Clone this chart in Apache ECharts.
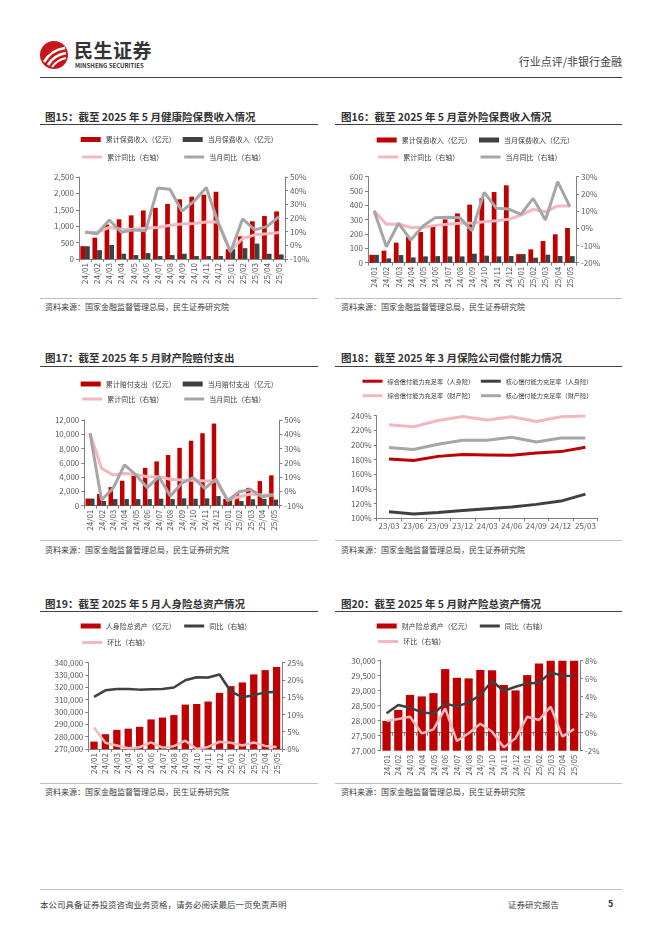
<!DOCTYPE html>
<html><head><meta charset="utf-8">
<script src="https://cdn.jsdelivr.net/npm/echarts@6/dist/echarts.min.js"></script>
<style>
html,body{margin:0;padding:0;background:#fff;}
body{width:662px;height:936px;position:relative;overflow:hidden;font-family:"Noto Sans CJK SC","Noto Sans",sans-serif;color:#333;}
.t{position:absolute;white-space:nowrap;}
.title{font-size:10.5px;font-weight:bold;color:#333;line-height:12px;}
.src{font-size:8px;color:#404040;line-height:10px;}
.hl{position:absolute;height:0;}
.ch{position:absolute;}
</style></head><body>
<!-- header -->
<svg class="t" style="left:39px;top:40px" width="30" height="30" viewBox="0 0 30 30">
<circle cx="15" cy="15" r="14" fill="#C8161D"/>
<path d="M5 22 Q12 10 26 8" stroke="#fff" stroke-width="2.6" fill="none"/>
<path d="M9 25 Q15 15 27 13" stroke="#fff" stroke-width="2.6" fill="none"/>
<path d="M13 27 Q18 20 27 18" stroke="#fff" stroke-width="2" fill="none"/>
</svg>
<div class="t" style="left:74px;top:40px;font-size:19px;font-weight:bold;line-height:20px;color:#333;letter-spacing:0.5px">民生证券</div>
<div class="t" style="left:75px;top:62px;font-size:6px;font-weight:bold;line-height:7px;color:#333">MINSHENG SECURITIES</div>
<div class="t" style="right:40px;top:55px;font-size:11px;line-height:13px;color:#404040">行业点评/非银行金融</div>
<div class="hl" style="left:40px;top:77px;width:582px;border-top:1px solid #404040"></div>

<!-- titles -->
<div class="t title" style="left:45px;top:111px">图15：截至 2025 年 5 月健康险保费收入情况</div>
<div class="t title" style="left:341px;top:111px">图16：截至 2025 年 5 月意外险保费收入情况</div>
<div class="hl" style="left:40px;top:124px;width:278px;border-top:1px solid #404040"></div>
<div class="hl" style="left:335px;top:124px;width:287px;border-top:1px solid #404040"></div>

<div class="t title" style="left:45px;top:352px">图17：截至 2025 年 5 月财产险赔付支出</div>
<div class="t title" style="left:341px;top:352px">图18：截至 2025 年 3 月保险公司偿付能力情况</div>
<div class="hl" style="left:40px;top:366px;width:278px;border-top:1px solid #404040"></div>
<div class="hl" style="left:335px;top:366px;width:287px;border-top:1px solid #404040"></div>

<div class="t title" style="left:45px;top:598px">图19：截至 2025 年 5 月人身险总资产情况</div>
<div class="t title" style="left:341px;top:598px">图20：截至 2025 年 5 月财产险总资产情况</div>
<div class="hl" style="left:40px;top:611px;width:278px;border-top:1px solid #404040"></div>
<div class="hl" style="left:335px;top:611px;width:287px;border-top:1px solid #404040"></div>

<!-- charts -->
<div id="c15" class="ch" style="left:40px;top:128px;width:278px;height:168px"></div>
<div id="c16" class="ch" style="left:335px;top:128px;width:287px;height:168px"></div>
<div id="c17" class="ch" style="left:40px;top:370px;width:278px;height:168px"></div>
<div id="c18" class="ch" style="left:335px;top:370px;width:287px;height:168px"></div>
<div id="c19" class="ch" style="left:40px;top:612px;width:278px;height:170px"></div>
<div id="c20" class="ch" style="left:335px;top:612px;width:287px;height:170px"></div>

<!-- sources -->
<div class="hl" style="left:40px;top:298px;width:278px;border-top:1px solid #bfbfbf"></div>
<div class="hl" style="left:335px;top:298px;width:287px;border-top:1px solid #bfbfbf"></div>
<div class="t src" style="left:45px;top:302px">资料来源：国家金融监督管理总局，民生证券研究院</div>
<div class="t src" style="left:341px;top:302px">资料来源：国家金融监督管理总局，民生证券研究院</div>
<div class="hl" style="left:40px;top:540px;width:278px;border-top:1px solid #bfbfbf"></div>
<div class="hl" style="left:335px;top:540px;width:287px;border-top:1px solid #bfbfbf"></div>
<div class="t src" style="left:45px;top:545px">资料来源：国家金融监督管理总局，民生证券研究院</div>
<div class="t src" style="left:341px;top:545px">资料来源：国家金融监督管理总局，民生证券研究院</div>
<div class="hl" style="left:40px;top:783px;width:278px;border-top:1px solid #bfbfbf"></div>
<div class="hl" style="left:335px;top:783px;width:287px;border-top:1px solid #bfbfbf"></div>
<div class="t src" style="left:45px;top:787px">资料来源：国家金融监督管理总局，民生证券研究院</div>
<div class="t src" style="left:341px;top:787px">资料来源：国家金融监督管理总局，民生证券研究院</div>

<!-- footer -->
<div class="hl" style="left:40px;top:889px;width:582px;border-top:1px solid #bfbfbf"></div>
<div class="t" style="left:40px;top:899px;font-size:8.5px;line-height:10px;color:#404040">本公司具备证券投资咨询业务资格，请务必阅读最后一页免责声明</div>
<div class="t" style="left:508px;top:899px;font-size:8.5px;line-height:10px;color:#404040">证券研究报告</div>
<div class="t" style="left:608px;top:899px;font-size:9px;line-height:10px;color:#333;font-weight:bold">5</div>

<script>
// ---------------- data ----------------
const months = ['24/01','24/02','24/03','24/04','24/05','24/06','24/07','24/08','24/09','24/10','24/11','24/12','25/01','25/02','25/03','25/04','25/05'];
const quarters = ['23/03','23/06','23/09','23/12','24/03','24/06','24/09','24/12','25/03'];

// 图15 健康险
const healthCum = [390,650,1050,1210,1330,1480,1560,1680,1820,1900,1960,2050,300,690,1150,1310,1450];
const healthMon = [390,270,430,160,120,180,90,120,160,90,90,90,300,330,470,160,140];
const healthCumYoy = [9.5,9.5,13.2,11.8,11.8,12.5,13,14.7,15.6,16,17,17,-4,5,7.7,8.4,9.4];
const healthMonYoy = [9.6,8.4,18.5,9.6,11.3,10.6,42,41,25,32.3,42.3,16,-5,19.3,11.3,13.7,21];

// 图16 意外险
const accCum = [55,84,140,180,214,258,302,344,405,450,493,540,60,93,151,198,242];
const accMon = [55,30,53,37,44,46,44,44,63,49,44,47,60,35,56,47,46];
const accCumYoy = [10.2,2.3,2.5,0.5,0.5,1.7,2.3,2.9,3.1,3.8,4.4,5.2,7.7,11,9.6,13,13];
const accMonYoy = [10.2,-10.7,2.9,-6.8,1.3,6.2,6.4,6.2,-1.4,20.9,11.6,11.2,8.1,17.4,4.8,27.1,12.6];

// 图17 财产险赔付
const claimCum = [1000,1650,2600,3500,4200,5300,6200,7100,8100,9100,10150,11500,950,1700,2500,3450,4250];
const claimMon = [1000,650,930,930,930,930,980,930,1030,980,1030,1350,950,650,900,950,850];
const claimCumYoy = [40.7,16.2,11.5,12.6,11.9,10.3,10.3,8.5,8,7.8,7.3,7.3,-6,-3.7,-1.8,-2.5,-2.5];
const claimMonYoy = [40.7,-6,2.1,18.5,11.5,2.6,10.3,-3.2,5.7,9.6,2.1,8.5,-6.5,-0.2,1.4,-3.7,-2.5];

// 图18 偿付能力
const lifeComp = [181,179,184.5,187,186.5,186,189,191,197];
const lifeCore = [109,106,108,110.5,113,115.5,119,123.5,133];
const propComp = [227.5,225,233.5,239,234,238.5,232,238.5,239.5];
const propCore = [196.5,194,201,206.5,206.5,210.5,204,209.5,209.5];

// 图19 人身险总资产
const lifeAsset = [276000,282000,285500,286500,288000,294000,295500,297500,306000,306500,308500,315500,321000,324000,330500,334000,336500];
const lifeYoy = [15.1,17,17.4,17.4,17.2,17.3,17.4,17.8,19.9,20.8,20.7,21.6,16.6,15,15.6,16.4,16.6];
const lifeMom = [6.2,1.8,1.0,0.2,0.5,1.9,0.4,0.8,2.4,0.0,0.6,2.1,1.8,1.0,1.9,0.9,0.6];

// 图20 财产险总资产
const propAsset = [27990,28360,28860,28810,28920,29720,29430,29410,29690,29680,29190,29010,29520,29910,30000,30000,30000];
const propYoy = [2.15,3.07,2.78,2.26,2.1,3.26,2.9,3.37,4.19,5.74,4.63,5.1,5.48,5.55,6.7,6.33,6.3];
const propMom = [1.3,1.52,1.78,-0.07,0.37,2.7,-0.93,-0.07,1.0,0.11,-1.63,-0.63,1.78,1.41,2.89,-0.44,0.41];

// ---------------- styles ----------------
const FONT = '"Noto Sans CJK SC","Noto Sans",sans-serif';
const RED = '#C00000', DARK = '#404040', PINK = '#F2B8BD', GRAY = '#A6A6A6';
const AX = '#808080', LBL = '#595959';
const thousands = v => Number(v).toLocaleString('en-US');
const pct = v => v + '%';

function yAx(min, max, interval, fmt, pos) {
  return {type:'value', position:pos, min, max, interval,
    axisLine:{show:true, lineStyle:{color:AX}},
    axisTick:{show:true, length:3, lineStyle:{color:AX}},
    splitLine:{show:false},
    axisLabel:{fontSize:8, color:LBL, margin:5, formatter:fmt, fontFamily:FONT}};
}
function xAx(data, rotate) {
  return {type:'category', data, boundaryGap:true,
    axisLine:{lineStyle:{color:AX}},
    axisTick:{show:true, length:3, lineStyle:{color:AX}},
    axisLabel:{rotate:rotate, fontSize:8, color:LBL, interval:0, margin:4, fontFamily:FONT}};
}
function lg(name, x, y, h, isLine, fs) {
  const item = isLine ? {name, itemStyle:{opacity:0}} : {name, icon:'rect'};
  const o = {data:[item], left:x, top:y, itemWidth:20, itemHeight:h, padding:0,
    selectedMode:false, textStyle:{fontSize:fs||7, color:'#404040', fontFamily:FONT}};
  if (isLine) o.lineStyle = {width:3};
  return o;
}
function bar(name, data, color, yi) {
  return {name, type:'bar', data, yAxisIndex:yi||0, color, itemStyle:{color},
    barGap:'0%', barCategoryGap:'22%', z:1};
}
function line(name, data, color, yi, w) {
  return {name, type:'line', data, yAxisIndex:yi, color, symbol:'none', showSymbol:false,
    lineStyle:{width:w||3, color}, itemStyle:{color}, z:3, animation:false};
}
function mk(id, opt) {
  const c = echarts.init(document.getElementById(id), null, {renderer:'canvas'});
  opt.animation = false;
  opt.textStyle = {fontFamily:FONT};
  c.setOption(opt);
}

// 图15
mk('c15', {
  legend:[lg('累计保费收入（亿元）',40.7,8,5), lg('当月保费收入（亿元）',142.7,8,5),
          lg('累计同比（右轴）',40.7,25.5,8,true), lg('当月同比（右轴）',142.7,25.5,8,true)],
  grid:{left:39, right:33, top:49, height:82},
  xAxis:xAx(months,90),
  yAxis:[yAx(0,2500,500,thousands,'left'), yAx(-10,50,10,pct,'right')],
  series:[bar('累计保费收入（亿元）',healthCum,RED), bar('当月保费收入（亿元）',healthMon,DARK),
          line('累计同比（右轴）',healthCumYoy,PINK,1), line('当月同比（右轴）',healthMonYoy,GRAY,1)]
});
// 图16
mk('c16', {
  legend:[lg('累计保费收入（亿元）',41.7,8.5,5), lg('当月保费收入（亿元）',144,8.5,5),
          lg('累计同比（右轴）',41.7,25.5,8,true), lg('当月同比（右轴）',144,25.5,8,true)],
  grid:{left:33, right:46, top:48.7, height:86},
  xAxis:xAx(months,90),
  yAxis:[yAx(0,600,100,null,'left'), yAx(-20,30,10,pct,'right')],
  series:[bar('累计保费收入（亿元）',accCum,RED), bar('当月保费收入（亿元）',accMon,DARK),
          line('累计同比（右轴）',accCumYoy,PINK,1), line('当月同比（右轴）',accMonYoy,GRAY,1)]
});
// 图17
mk('c17', {
  legend:[lg('累计赔付支出（亿元）',40.7,10.5,5), lg('当月赔付支出（亿元）',142.7,10.5,5),
          lg('累计同比（右轴）',40.7,25.5,8,true), lg('当月同比（右轴）',142.7,25.5,8,true)],
  grid:{left:44.3, right:38.7, top:50, height:85.7},
  xAxis:xAx(months,90),
  yAxis:[yAx(0,12000,2000,thousands,'left'), yAx(-10,50,10,pct,'right')],
  series:[bar('累计赔付支出（亿元）',claimCum,RED), bar('当月赔付支出（亿元）',claimMon,DARK),
          line('累计同比（右轴）',claimCumYoy,PINK,1), line('当月同比（右轴）',claimMonYoy,GRAY,1)]
});
// 图18
mk('c18', {
  legend:[lg('综合偿付能力充足率（人身险）',26,8,8,true,6.2), lg('核心偿付能力充足率（人身险）',144.3,8,8,true,6.2),
          lg('综合偿付能力充足率（财产险）',26,22.5,8,true,6.2), lg('核心偿付能力充足率（财产险）',144.3,22.5,8,true,6.2)],
  grid:{left:41.7, right:24.3, top:45.7, height:102.6},
  xAxis:xAx(quarters,0),
  yAxis:[yAx(100,240,20,pct,'left')],
  series:[line('综合偿付能力充足率（人身险）',lifeComp,RED,0),
          line('核心偿付能力充足率（人身险）',lifeCore,DARK,0),
          line('综合偿付能力充足率（财产险）',propComp,PINK,0),
          line('核心偿付能力充足率（财产险）',propCore,GRAY,0)]
});
// 图19
mk('c19', {
  legend:[lg('人身险总资产（亿元）',40.7,10.5,5), lg('同比（右轴）',142.7,10.5,8,true),
          lg('环比（右轴）',40.7,27,8,true)],
  grid:{left:48.3, right:35.7, top:50.7, height:86.3},
  xAxis:xAx(months,90),
  yAxis:[yAx(270000,340000,10000,thousands,'left'), yAx(0,25,5,pct,'right')],
  series:[Object.assign(bar('人身险总资产（亿元）',lifeAsset,RED),{barCategoryGap:'36%'}),
          line('同比（右轴）',lifeYoy,DARK,1,2.5), line('环比（右轴）',lifeMom,PINK,1,2.5)]
});
// 图20
mk('c20', {
  legend:[lg('财产险总资产（亿元）',41.7,10.5,5), lg('同比（右轴）',143.3,10.5,8,true),
          lg('环比（右轴）',41.7,26,8,true)],
  grid:{left:45.7, right:42, top:48.7, height:90},
  xAxis:xAx(months,90),
  yAxis:[yAx(27000,30000,500,thousands,'left'), yAx(-2,8,2,pct,'right')],
  series:[Object.assign(bar('财产险总资产（亿元）',propAsset,RED),{barCategoryGap:'30%'}),
          line('同比（右轴）',propYoy,DARK,1,2.5), line('环比（右轴）',propMom,PINK,1,2.5)]
});
</script>
</body></html>
